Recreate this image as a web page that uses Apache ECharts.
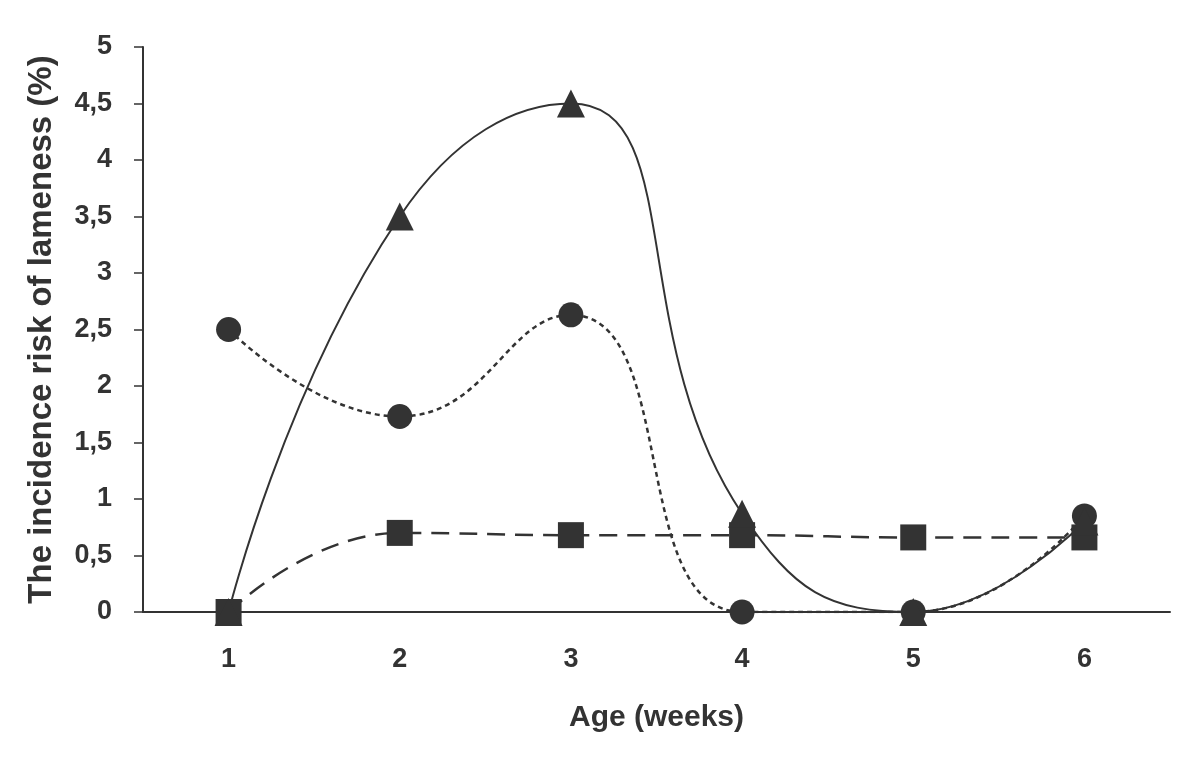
<!DOCTYPE html>
<html>
<head>
    <meta charset="utf-8">
    <title>ECharts</title>
    <script src="https://cdn.jsdelivr.net/npm/echarts@6/dist/echarts.min.js"></script>
</head>
<body style="margin:0;background:#fff;">
    <div id="main" style="width: 1200px;height:784px;"></div>
    <script type="text/javascript">
        var myChart = echarts.init(document.getElementById('main'));

        // weeks of age
        var weeks = ['1', '2', '3', '4', '5', '6'];
        // incidence risk (%)
        var triangleData = [0, 3.5, 4.5, 0.87, 0, 0.8];
        var circleData = [2.5, 1.73, 2.63, 0, 0, 0.85];
        var squareData = [0, 0.7, 0.68, 0.68, 0.66, 0.66];

        var ink = '#333';

        option = {
            backgroundColor: '#fff',
            animation: false,
            grid: {left: 143, right: 30, top: 47, bottom: 172},
            xAxis: {
                type: 'category',
                data: weeks,
                boundaryGap: true,
                name: 'Age (weeks)',
                nameLocation: 'middle',
                nameGap: 91,
                nameTextStyle: {color: ink, fontSize: 30, fontFamily: 'Liberation Sans Narrow, Liberation Sans', fontWeight: 'bold'},
                axisLine: {lineStyle: {color: ink, width: 2}},
                axisTick: {length: 8, lineStyle: {color: ink, width: 1.5}},
                axisLabel: {color: ink, fontSize: 27, fontWeight: 'bold', margin: 34, fontFamily: 'Liberation Sans Narrow, Liberation Sans'},
                splitLine: {show: false}
            },
            yAxis: {
                type: 'value',
                min: 0,
                max: 5,
                interval: 0.5,
                name: 'The incidence risk of lameness (%)',
                nameLocation: 'middle',
                nameGap: 85,
                nameTextStyle: {color: ink, fontSize: 33, fontFamily: 'Liberation Sans', fontWeight: 'bold'},
                axisLine: {show: true, lineStyle: {color: ink, width: 2}},
                axisTick: {show: true, length: 9, lineStyle: {color: ink, width: 1.5}},
                axisLabel: {
                    color: ink, fontSize: 27, fontWeight: 'bold', margin: 31, fontFamily: 'Liberation Sans',
                    formatter: function (v) { return String(v).replace('.', ','); }
                },
                splitLine: {show: false}
            },
            series: [
                {
                    name: 'square',
                    type: 'line',
                    data: squareData,
                    smooth: true,
                    symbol: 'rect',
                    symbolSize: 26,
                    itemStyle: {color: ink},
                    lineStyle: {color: ink, width: 2.5, type: [18, 10]}
                },
                {
                    name: 'circle',
                    type: 'line',
                    data: circleData,
                    smooth: true,
                    symbol: 'circle',
                    symbolSize: 25,
                    itemStyle: {color: ink},
                    lineStyle: {color: ink, width: 2.5, type: [5, 4]}
                },
                {
                    name: 'triangle',
                    type: 'line',
                    data: triangleData,
                    smooth: true,
                    symbol: 'triangle',
                    symbolSize: 28,
                    itemStyle: {color: ink},
                    lineStyle: {color: ink, width: 2, type: 'solid'}
                }
            ]
        };

        myChart.setOption(option);
    </script>
</body>
</html>
